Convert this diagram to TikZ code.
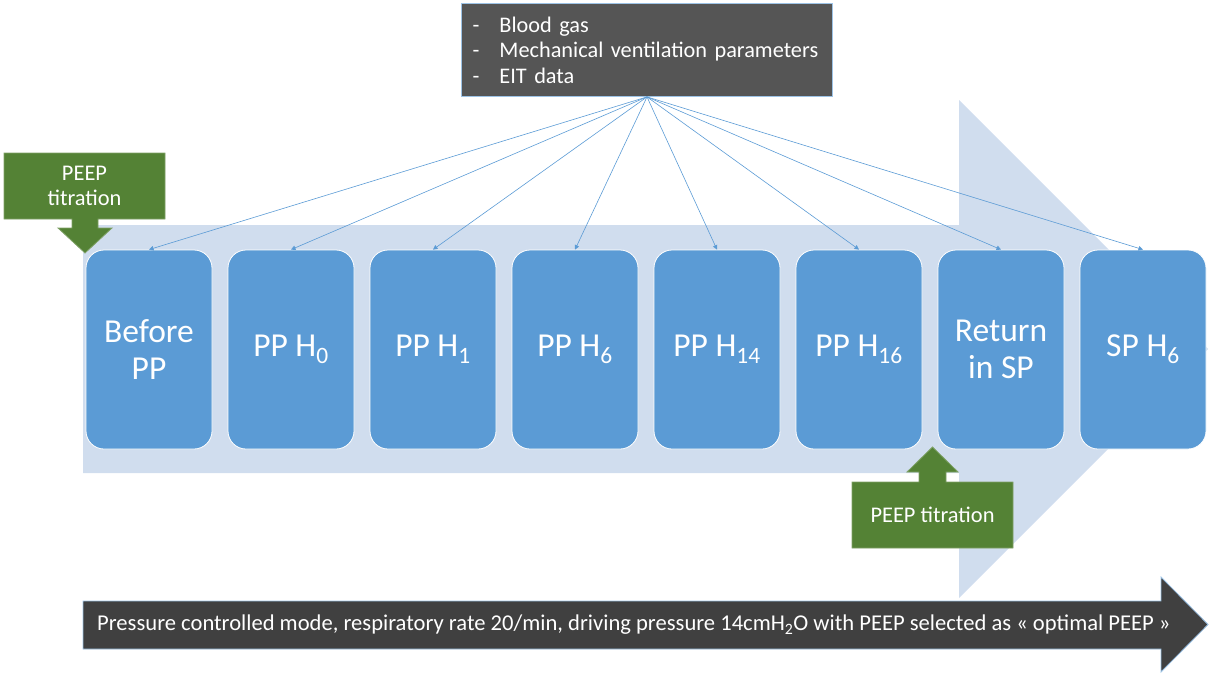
\documentclass[tikz,border=0pt]{standalone}
\usepackage{fontspec}
\setmainfont{Carlito}
\usetikzlibrary{arrows.meta}
\definecolor{boxblue}{RGB}{91,155,213}
\definecolor{paleblue}{RGB}{208,221,238}
\definecolor{infogray}{RGB}{85,85,85}
\definecolor{bargray}{RGB}{64,64,64}
\definecolor{peepgreen}{RGB}{84,130,53}
\definecolor{edgeblue}{RGB}{157,195,230}
\begin{document}
\begin{tikzpicture}
        [x=1pt,y=-1pt,
         stage/.style={draw=white,line width=0.8pt,fill=boxblue,rounded corners=18pt,
           minimum width=126pt,minimum height=199pt,inner sep=0pt,align=center,
           text=white,font=\fontsize{33.5}{36.5}\selectfont},
         link/.style={boxblue,line width=0.6pt,-{Triangle[length=4.5pt,width=4.5pt]}},
         callout/.style={fill=peepgreen,draw=peepgreen!75!white,line width=0.8pt},
         peeptext/.style={text=white,align=center,inner sep=0pt,font=\fontsize{22.4}{25}\selectfont}]
        \useasboundingbox (0,0) rectangle (1210,673);

        \fill[paleblue] (83,225) -- (959,225) -- (959,100) -- (1208,349)
          -- (959,598) -- (959,473) -- (83,473) -- cycle;

        \draw[fill=bargray,draw=edgeblue,line width=0.8pt] (83,601) -- (1161,601)
          -- (1161,577) -- (1208,624.5) -- (1161,672) -- (1161,649) -- (83,649) -- cycle;
        \node[anchor=west,inner sep=0pt,text=white,font=\fontsize{22.6}{26}\selectfont] (mode) at (97,625)
          {Pressure controlled mode, respiratory rate 20/min, driving pressure 14cmH\textsubscript{2}O with PEEP selected as « optimal PEEP »};

        \node[draw=edgeblue,fill=infogray,line width=0.8pt,minimum width=371pt,minimum height=93pt,
          text width=349pt,inner sep=0pt,align=left,text=white,font=\fontsize{22.3}{25.5}\selectfont]
          (info) at (647,50)
          {\makebox[27pt][l]{-}Blood gas\\\makebox[27pt][l]{-}Mechanical ventilation parameters\\\makebox[27pt][l]{-}EIT data};

        \foreach \i/\name in {0/{Before\\PP},1/{PP H\textsubscript{0}},2/{PP H\textsubscript{1}},
          3/{PP H\textsubscript{6}},4/{PP H\textsubscript{14}},5/{PP H\textsubscript{16}},
          6/{Return\\in SP},7/{SP H\textsubscript{6}}}
        {\node[stage] (s\i) at (149+142*\i,349.5) {\name};}

        \foreach \i in {0,...,7}
        {\draw[link] (info.south) -- (s\i.north);}

        \draw[callout] (4,153) -- (165,153) -- (165,219) -- (98,219) -- (98,228) -- (112,228)
          -- (85,253) -- (58,228) -- (72,228) -- (72,219) -- (4,219) -- cycle;
        \node[peeptext] (peepa) at (84.5,186) {PEEP\\titration};

        \draw[callout] (852,548) -- (1013,548) -- (1013,482) -- (946,482) -- (946,472) -- (958,472)
          -- (932.5,447) -- (907,472) -- (919,472) -- (919,482) -- (852,482) -- cycle;
        \node[peeptext] (peepb) at (932.5,515) {PEEP titration};
      \end{tikzpicture}
\end{document}
